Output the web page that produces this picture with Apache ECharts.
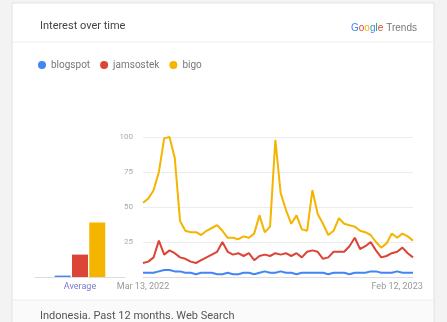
<!DOCTYPE html>
<html><head><meta charset="utf-8">
<script src="https://cdn.jsdelivr.net/npm/echarts@6/dist/echarts.min.js"></script>
<style>html,body{margin:0;padding:0;background:#f3f3f3;}#c{width:447px;height:322px;}</style>
</head><body><div id="c"></div>
<script>
const terms = ['blogspot', 'jamsostek', 'bigo'];
const colors = ['#4285f4', '#db4437', '#f4b400'];
const weeks = ['Mar 13, 2022','Mar 20, 2022','Mar 27, 2022','Apr 3, 2022','Apr 10, 2022','Apr 17, 2022','Apr 24, 2022','May 1, 2022','May 8, 2022','May 15, 2022','May 22, 2022','May 29, 2022','Jun 5, 2022','Jun 12, 2022','Jun 19, 2022','Jun 26, 2022','Jul 3, 2022','Jul 10, 2022','Jul 17, 2022','Jul 24, 2022','Jul 31, 2022','Aug 7, 2022','Aug 14, 2022','Aug 21, 2022','Aug 28, 2022','Sep 4, 2022','Sep 11, 2022','Sep 18, 2022','Sep 25, 2022','Oct 2, 2022','Oct 9, 2022','Oct 16, 2022','Oct 23, 2022','Oct 30, 2022','Nov 6, 2022','Nov 13, 2022','Nov 20, 2022','Nov 27, 2022','Dec 4, 2022','Dec 11, 2022','Dec 18, 2022','Dec 25, 2022','Jan 1, 2023','Jan 8, 2023','Jan 15, 2023','Jan 22, 2023','Jan 29, 2023','Feb 5, 2023','Feb 12, 2023','Feb 19, 2023','Feb 26, 2023','Mar 5, 2023'];
const shownDates = ['Mar 13, 2022', 'Feb 12, 2023'];
const blogspot = [3,3,3,4,5,5,4,4,3,3,2,3,3,3,2,2,3,2,2,3,3,2,3,4,3,3,4,3,3,2,3,3,3,3,3,2,3,3,3,2,3,3,3,4,4,3,3,3,4,3,3,3];
const jamsostek = [10,11,14,26,16,19,17,14,13,11,10,12,14,16,18,25,18,16,17,15,17,12,15,16,15,17,16,17,15,17,14,18,19,18,13,14,18,18,18,22,28,20,22,25,19,14,15,17,18,21,17,14];
const bigo = [53,56,62,75,99,100,85,40,33,32,32,30,33,35,37,33,28,28,27,29,28,31,44,32,36,98,60,48,38,44,34,33,62,45,38,30,33,42,38,37,36,33,32,30,25,21,24,31,28,31,29,26];
const averages = [1, 16, 39];
const yTicks = [25, 50, 75, 100];
const seriesData = [blogspot, jamsostek, bigo];

const chart = echarts.init(document.getElementById('c'));
const font = 'Roboto, Arial, sans-serif';
const series = [];
terms.forEach((t, i) => {
  series.push({
    name: t, type: 'bar', xAxisIndex: 0, yAxisIndex: 0,
    data: [averages[i]], barWidth: 16, barGap: '8%',
    itemStyle: {color: colors[i]}, silent: true
  });
});
terms.forEach((t, i) => {
  series.push({
    name: t, type: 'line', xAxisIndex: 1, yAxisIndex: 1,
    data: seriesData[i], symbol: 'none', smooth: false,
    lineStyle: {color: colors[i], width: 2}, itemStyle: {color: colors[i]}
  });
});
chart.setOption({
  animation: false,
  textStyle: {fontFamily: font},
  graphic: [
    {type: 'rect', shape: {x: 12, y: 3, width: 422, height: 330}, style: {fill: '#fff', stroke: '#e2e2e2', lineWidth: 1}, z: -10},
    {type: 'line', shape: {x1: 12, y1: 42, x2: 434, y2: 42}, style: {stroke: '#ececec', lineWidth: 1}, z: -9},
    {type: 'rect', shape: {x: 13, y: 300, width: 420, height: 30}, style: {fill: '#fafafa'}, z: -9},
    {type: 'line', shape: {x1: 12, y1: 300, x2: 434, y2: 300}, style: {stroke: '#ececec', lineWidth: 1}, z: -9},
    {type: 'text', left: 40, top: 21, style: {text: 'Interest over time', fill: '#444', fontSize: 11, fontFamily: font}},
    {type: 'text', left: 351, top: 22, style: {
      text: '{b|G}{r|o}{y|o}{b|g}{g|l}{r|e} {t|Trends}',
      rich: {b: {fill: '#4285f4', fontSize: 10}, r: {fill: '#db4437', fontSize: 10}, y: {fill: '#f4b400', fontSize: 10}, g: {fill: '#0f9d58', fontSize: 10}, t: {fill: '#777', fontSize: 10}},
      fontFamily: font}},
    {type: 'text', left: 40, top: 311, style: {text: 'Indonesia. Past 12 months. Web Search', fill: '#555', fontSize: 11, fontFamily: font}}
  ],
  legend: {
    left: 33, top: 55, icon: 'circle', itemWidth: 8, itemHeight: 8, itemGap: 10,
    textStyle: {color: '#777', fontSize: 10, fontFamily: font},
    data: terms
  },
  grid: [
    {left: 35, top: 137, width: 90, bottom: 45},
    {left: 143, top: 137, right: 34, bottom: 45}
  ],
  xAxis: [
    {type: 'category', gridIndex: 0, data: ['Average'],
     axisLine: {lineStyle: {color: '#ddd'}}, axisTick: {show: false},
     axisLabel: {color: '#7a7acc', fontSize: 9, margin: 5}},
    {type: 'category', gridIndex: 1, data: weeks, boundaryGap: false,
     axisLine: {lineStyle: {color: '#ddd'}}, axisTick: {show: false},
     axisLabel: {color: '#999', fontSize: 9, margin: 5, interval: 0,
       formatter: v => shownDates.includes(v) ? v : ''}}
  ],
  yAxis: [
    {type: 'value', gridIndex: 0, min: 0, max: 100, interval: 25, show: false},
    {type: 'value', gridIndex: 1, min: 0, max: 100, interval: 25,
     axisLine: {show: false}, axisTick: {show: false},
     splitLine: {lineStyle: {color: '#ececec'}},
     axisLabel: {color: '#aaa', fontSize: 8, margin: 10,
       formatter: v => yTicks.includes(v) ? String(v) : ''}}
  ],
  series: series
});
</script></body></html>
